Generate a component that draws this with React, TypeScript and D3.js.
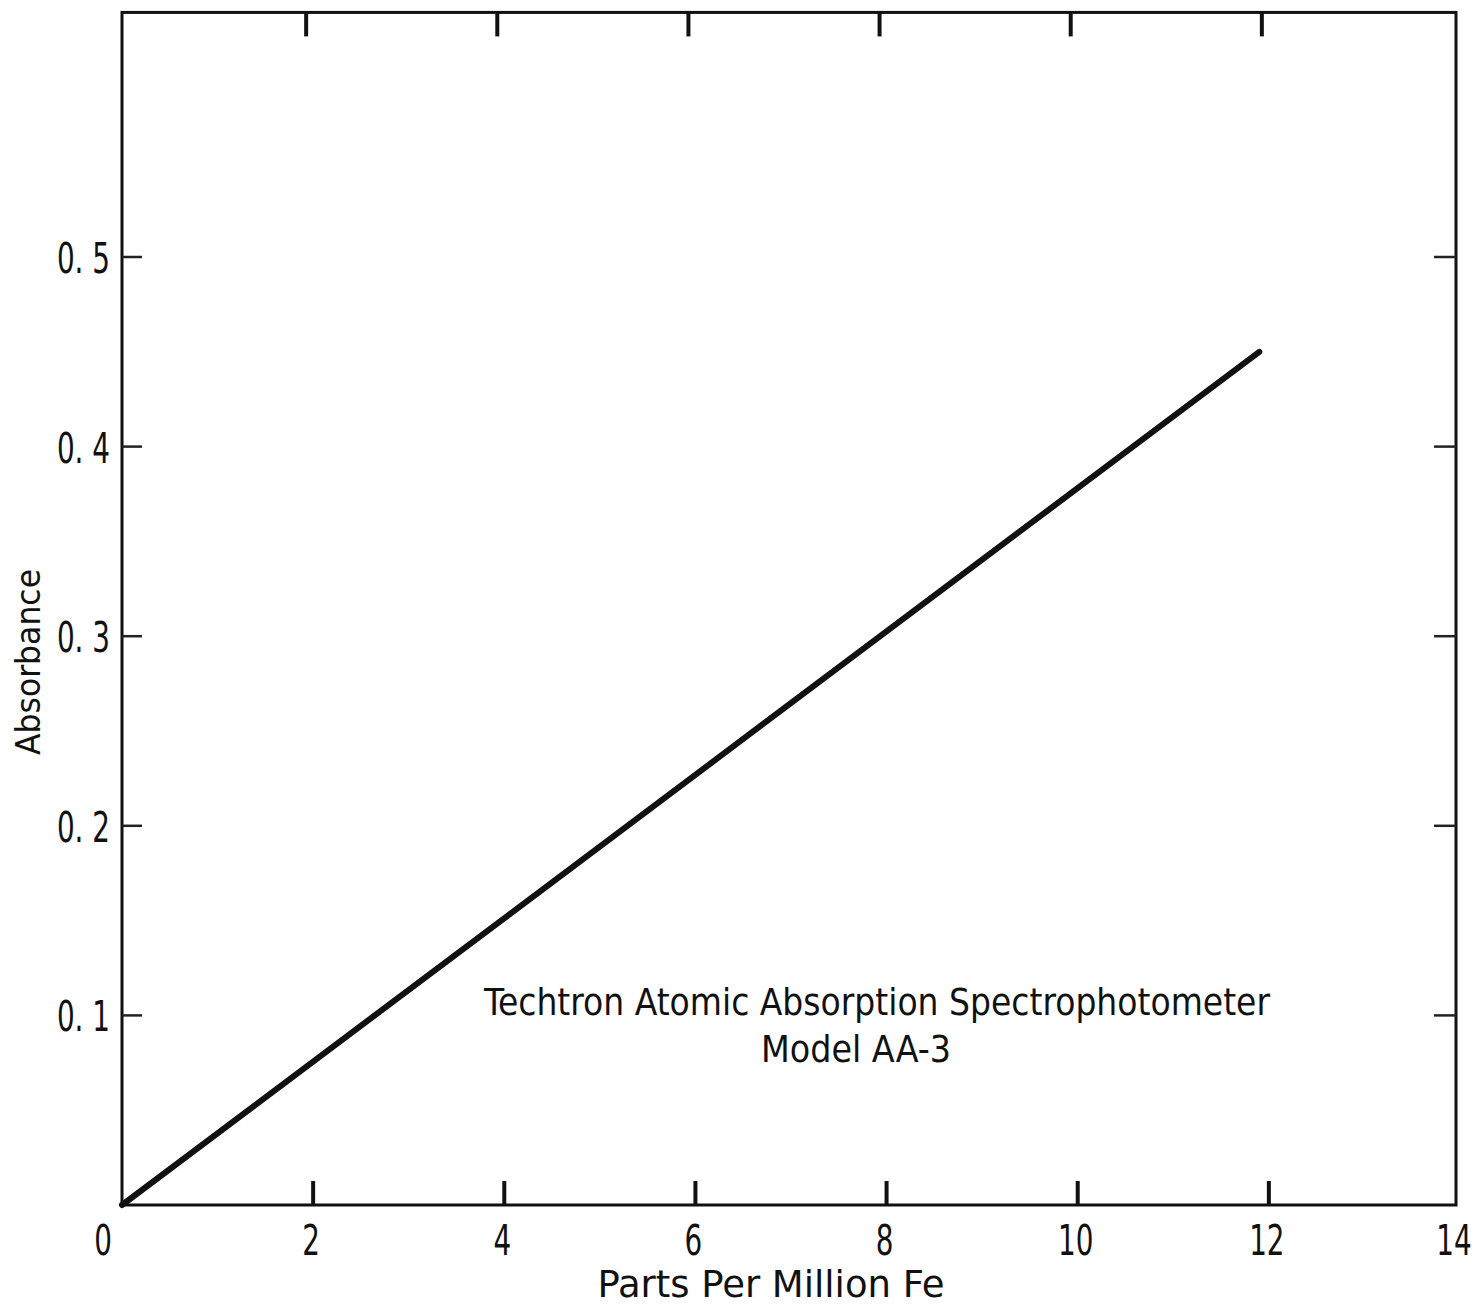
import React from "react";
import * as d3 from "d3";

const xTicks = [0, 2, 4, 6, 8, 10, 12, 14];
const xInnerTicks = [2, 4, 6, 8, 10, 12];
const yTicks = [0.1, 0.2, 0.3, 0.4, 0.5];
const lineX = [0, 11.9];
const lineY = [0, 0.45];
const annotation = ["Techtron Atomic Absorption Spectrophotometer", "Model AA-3"];
const xTitle = "Parts Per Million Fe";
const yTitle = "Absorbance";

const W = 1478;
const H = 1309;
const FONT = "'DejaVu Sans Condensed', 'DejaVu Sans', sans-serif";
const SX = 0.72;

export default function App() {
  const x = d3.scaleLinear().domain([0, 14]).range([122, 1460]);
  const y = d3.scaleLinear().domain([0, 0.5]).range([1205, 257]);
  const yTop = y(0.629);
  const pts = lineX.map((v, i) => [x(v), y(lineY[i])] as [number, number]);
  const line = d3.line();
  return (
    <svg width={W} height={H} style={{ position: "absolute", left: 0, top: 0, background: "#fff" }}>
      <rect x={0} y={0} width={W} height={H} fill="#fff" />
      <rect x={x(0)} y={yTop} width={x(14) - x(0) - 4} height={y(0) - yTop} fill="none" stroke="#111" strokeWidth={3} />
      {xInnerTicks.map((t) => (
        <line key={"b" + t} x1={x(t)} x2={x(t)} y1={y(0)} y2={y(0) - 24} stroke="#111" strokeWidth={4} />
      ))}
      {xInnerTicks.map((t) => (
        <line key={"t" + t} x1={x(t) - 7} x2={x(t) - 7} y1={yTop} y2={yTop + 24} stroke="#111" strokeWidth={4} />
      ))}
      {yTicks.map((t) => (
        <g key={"y" + t}>
          <line x1={x(0)} x2={x(0) + 20} y1={y(t)} y2={y(t)} stroke="#222" strokeWidth={2.5} />
          <line x1={x(14) - 4} x2={x(14) - 26} y1={y(t)} y2={y(t)} stroke="#222" strokeWidth={2.5} />
        </g>
      ))}
      <path d={line(pts) || ""} fill="none" stroke="#111" strokeWidth={6} strokeLinecap="round" />
      {xTicks.map((t, i) => (
        <text key={"xl" + t} transform={`translate(${i === 0 ? x(t) - 19 : i === 7 ? x(t) - 6 : x(t) - 2},1255) scale(${SX},1)`} textAnchor="middle" fontFamily={FONT} fontSize={43} fill="#111">
          {t}
        </text>
      ))}
      {yTicks.map((t) => (
        <text key={"yl" + t} transform={`translate(110,${y(t) + 16}) scale(${SX},1)`} textAnchor="end" fontFamily={FONT} fontSize={43} fill="#111">
          {t.toFixed(1).replace(".", ". ")}
        </text>
      ))}
      <text x={877} y={1015} textAnchor="middle" fontFamily={FONT} fontSize={38} fill="#111" textLength={786} lengthAdjust="spacingAndGlyphs">
        {annotation[0]}
      </text>
      <text x={856} y={1062} textAnchor="middle" fontFamily={FONT} fontSize={38} fill="#111" textLength={190} lengthAdjust="spacingAndGlyphs">
        {annotation[1]}
      </text>
      <text x={771} y={1297} textAnchor="middle" fontFamily={FONT} fontSize={38} fill="#111" textLength={347} lengthAdjust="spacingAndGlyphs">
        {xTitle}
      </text>
      <text transform={`translate(40,662) rotate(-90)`} textAnchor="middle" fontFamily={FONT} fontSize={34} fill="#111" textLength={186} lengthAdjust="spacingAndGlyphs">
        {yTitle}
      </text>
    </svg>
  );
}
